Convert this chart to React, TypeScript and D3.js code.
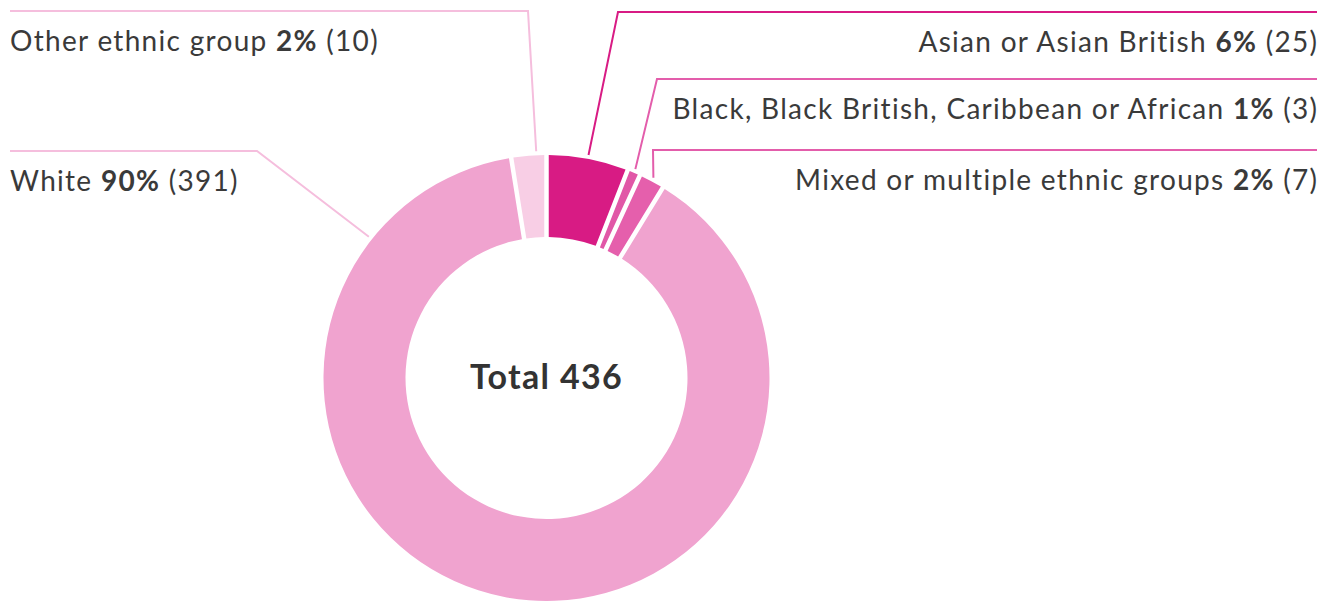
import React from "react";
import * as d3 from "d3";

const categories = [
  "Asian or Asian British",
  "Black, Black British, Caribbean or African",
  "Mixed or multiple ethnic groups",
  "White",
  "Other ethnic group",
];
const counts = [25, 3, 7, 391, 10];
const percents = ["6%", "1%", "2%", "90%", "2%"];
const colors = ["#d81b84", "#e157a7", "#e55fac", "#f0a3cf", "#f8cee5"];
const lineColors = ["#d81b84", "#e35dab", "#e35dab", "#f5bedd", "#f5bedd"];
const totalLabel = "Total 436";

// label layout: side, row line y, elbow x, optional anchor angle override (deg)
const labelSide = ["right", "right", "right", "left", "left"];
const labelRowY = [12, 79, 150, 151, 11];
const labelElbowX = [618, 657, 653, 257, 528];
const labelAnchorDeg: (number | null)[] = [null, null, null, -51.5, -2.6];

const W = 1333;
const H = 601;
const cx = 546.5;
const cy = 378;
const outerR = 223;
const innerR = 141;
const rightX = 1317;
const leftX = 10;
const font = "Lato, 'Open Sans', sans-serif";

export default function App() {
  const pie = d3
    .pie<number>()
    .sort(null)
    .value((d) => d)
    .padAngle(0.017);
  const arcs = pie(counts);
  const arc = d3
    .arc<d3.PieArcDatum<number>>()
    .innerRadius(innerR)
    .outerRadius(outerR);

  return (
    <svg
      width={W}
      height={H}
      style={{ position: "absolute", left: 0, top: 0 }}
      fontFamily={font}
    >
      <g transform={`translate(${cx},${cy})`}>
        {arcs.map((a, i) => (
          <path key={i} d={arc(a) || ""} fill={colors[i]} />
        ))}
        <text
          x={0}
          y={11}
          textAnchor="middle"
          fontSize={34}
          fontWeight={700}
          letterSpacing={1.3}
          fill="#333"
        >
          {totalLabel}
        </text>
      </g>
      {arcs.map((a, i) => {
        const mid = (a.startAngle + a.endAngle) / 2;
        const ang =
          labelAnchorDeg[i] != null ? (labelAnchorDeg[i]! * Math.PI) / 180 : mid;
        const [px, py] = d3.pointRadial(ang, outerR + 4);
        const ax = cx + px;
        const ay = cy + py;
        const right = labelSide[i] === "right";
        const endX = right ? rightX : leftX;
        const pts: [number, number][] = [
          [ax, ay],
          [labelElbowX[i], labelRowY[i]],
          [endX, labelRowY[i]],
        ];
        const line = d3.line()(pts) || "";
        const ty = labelRowY[i] + 40;
        return (
          <g key={"l" + i}>
            <path d={line} fill="none" stroke={lineColors[i]} strokeWidth={2} />
            <text
              x={right ? endX + 1.3 : endX}
              y={ty}
              textAnchor={right ? "end" : "start"}
              fontSize={28}
              letterSpacing={1.3}
              fill="#3a3a3a"
            >
              {categories[i] + " "}
              <tspan fontWeight={700}>{percents[i]}</tspan>
              {" (" + counts[i] + ")"}
            </text>
          </g>
        );
      })}
    </svg>
  );
}
